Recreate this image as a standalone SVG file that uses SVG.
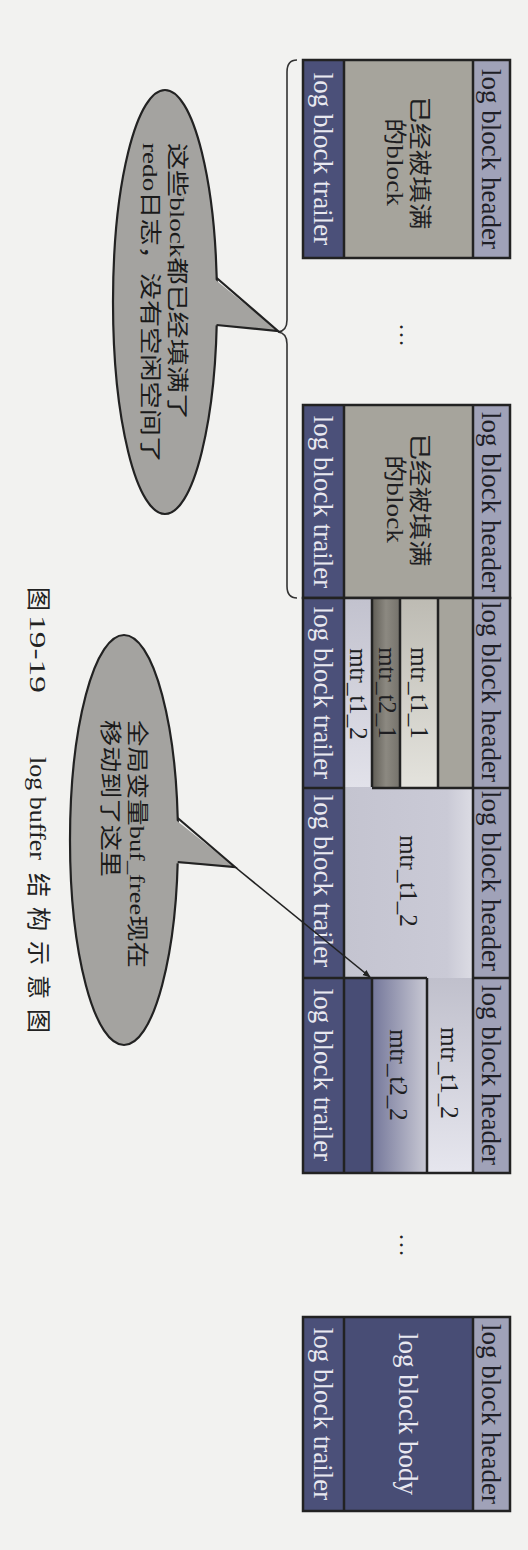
<svg xmlns="http://www.w3.org/2000/svg" width="528" height="1550" viewBox="0 0 528 1550">
<style>
.lat{font-family:"Liberation Serif","Times New Roman",serif;}
.cjk{font-family:"Liberation Serif","Noto Sans CJK SC",serif;}
.hdr{fill:#a0a2b8;}
.trl{fill:#4b5079;}
.gray{fill:#a6a49c;}
.navy{fill:#484d75;}
.frame{fill:none;stroke:#222;stroke-width:2.5;}
.ln{stroke:#222;stroke-width:2.5;fill:none;}
.tdark{fill:#1e1e26;font-size:27px;}
.tlight{fill:#e8e8f0;font-size:27px;}
.mtr{fill:#1e1e22;font-size:25px;}
.body{fill:#1e1e22;font-size:23px;}
.call{fill:#1a1a1a;font-size:22px;}
.cap{fill:#222;font-size:24px;}
.bub{fill:#a4a3a0;}
</style>
<defs>
<linearGradient id="gT11" x1="0" y1="0" x2="0" y2="1"><stop offset="0" stop-color="#bdbbb3"/><stop offset="1" stop-color="#e4e3dd"/></linearGradient>
<linearGradient id="gT21" x1="0" y1="0" x2="1" y2="0"><stop offset="0" stop-color="#5f5c55"/><stop offset="0.5" stop-color="#8c8981"/><stop offset="1" stop-color="#75726b"/></linearGradient>
<linearGradient id="gT12a" x1="0" y1="0" x2="0" y2="1"><stop offset="0" stop-color="#c2c2ce"/><stop offset="1" stop-color="#e2e2ea"/></linearGradient>
<linearGradient id="gT12b" x1="0" y1="0" x2="1" y2="0"><stop offset="0" stop-color="#c4c4d0"/><stop offset="0.8" stop-color="#cacad6"/><stop offset="1" stop-color="#dcdce4"/></linearGradient>
<linearGradient id="gT12c" x1="0" y1="0" x2="0" y2="1"><stop offset="0" stop-color="#c0c0cc"/><stop offset="1" stop-color="#e6e6ee"/></linearGradient>
<linearGradient id="gT22" x1="0" y1="0" x2="1" y2="0"><stop offset="0" stop-color="#74779a"/><stop offset="1" stop-color="#c9c9d4"/></linearGradient>
<marker id="ah" viewBox="0 0 10 10" refX="9" refY="5" markerWidth="8" markerHeight="8" orient="auto" markerUnits="userSpaceOnUse"><path d="M0,1 L10,5 L0,9 Z" fill="#222"/></marker>
</defs>
<rect width="528" height="1550" fill="#f2f2f0"/>

<g id="block1">
<rect class="trl" x="303" y="60" width="41" height="198"/>
<rect class="gray" x="344" y="60" width="129" height="198"/>
<rect class="hdr" x="473" y="60" width="37" height="198"/>
<rect class="frame" x="303" y="60" width="207" height="198"/>
<line class="ln" x1="344" y1="60" x2="344" y2="258"/>
<line class="ln" x1="473" y1="60" x2="473" y2="258"/>
<text class="lat tdark" text-anchor="middle" dominant-baseline="central" transform="translate(491,159) rotate(90)">log block header</text>
<text class="lat tlight" text-anchor="middle" dominant-baseline="central" transform="translate(323,159) rotate(90)">log block trailer</text>
<text class="cjk body" text-anchor="middle" dominant-baseline="central" textLength="133" lengthAdjust="spacingAndGlyphs" transform="translate(419,163) rotate(90)">已经被填满</text>
<text class="cjk body" text-anchor="middle" dominant-baseline="central" textLength="88" lengthAdjust="spacingAndGlyphs" transform="translate(394,162) rotate(90)">的block</text>
</g>

<g id="ellipsis1"><text class="lat" font-size="24" fill="#222" text-anchor="middle" dominant-baseline="central" transform="translate(408,335) rotate(90)">…</text></g>

<g id="block2">
<rect class="trl" x="303" y="405" width="41" height="193"/>
<rect class="gray" x="344" y="405" width="129" height="193"/>
<rect class="hdr" x="473" y="405" width="37" height="193"/>
<rect class="frame" x="303" y="405" width="207" height="193"/>
<line class="ln" x1="344" y1="405" x2="344" y2="598"/>
<line class="ln" x1="473" y1="405" x2="473" y2="598"/>
<text class="lat tdark" text-anchor="middle" dominant-baseline="central" transform="translate(491,502) rotate(90)">log block header</text>
<text class="lat tlight" text-anchor="middle" dominant-baseline="central" transform="translate(323,502) rotate(90)">log block trailer</text>
<text class="cjk body" text-anchor="middle" dominant-baseline="central" textLength="133" lengthAdjust="spacingAndGlyphs" transform="translate(419,500) rotate(90)">已经被填满</text>
<text class="cjk body" text-anchor="middle" dominant-baseline="central" textLength="88" lengthAdjust="spacingAndGlyphs" transform="translate(394,499) rotate(90)">的block</text>
</g>

<g id="block3">
<rect class="trl" x="303" y="598" width="41" height="190"/>
<rect class="gray" x="344" y="598" width="129" height="190"/>
<rect fill="url(#gT12a)" x="344" y="598" width="28" height="191"/>
<rect fill="url(#gT21)" x="372" y="598" width="28" height="190"/>
<rect fill="url(#gT11)" x="400" y="598" width="38" height="190"/>
<rect class="hdr" x="473" y="598" width="37" height="190"/>
<line class="ln" x1="372" y1="598" x2="372" y2="788"/>
<line class="ln" x1="400" y1="598" x2="400" y2="788"/>
<line class="ln" x1="438" y1="598" x2="438" y2="788"/>
<text class="lat tdark" text-anchor="middle" dominant-baseline="central" transform="translate(491,692) rotate(90)">log block header</text>
<text class="lat tlight" text-anchor="middle" dominant-baseline="central" transform="translate(323,693) rotate(90)">log block trailer</text>
<text class="lat mtr" text-anchor="middle" dominant-baseline="central" transform="translate(419,693) rotate(90)">mtr_t1_1</text>
<text class="lat mtr" text-anchor="middle" dominant-baseline="central" transform="translate(387,693) rotate(90)">mtr_t2_1</text>
<text class="lat mtr" text-anchor="middle" dominant-baseline="central" transform="translate(358,694) rotate(90)">mtr_t1_2</text>
</g>

<g id="block4">
<rect class="trl" x="303" y="788" width="41" height="190"/>
<rect fill="url(#gT12b)" x="344" y="787" width="129" height="192"/>
<rect class="hdr" x="473" y="788" width="37" height="190"/>
<line class="ln" x1="372" y1="788" x2="473" y2="788"/>
<text class="lat tdark" text-anchor="middle" dominant-baseline="central" transform="translate(491,881) rotate(90)">log block header</text>
<text class="lat tlight" text-anchor="middle" dominant-baseline="central" transform="translate(323,881) rotate(90)">log block trailer</text>
<text class="lat mtr" text-anchor="middle" dominant-baseline="central" transform="translate(408,881) rotate(90)">mtr_t1_2</text>
</g>

<g id="block5">
<rect class="trl" x="303" y="978" width="41" height="195"/>
<rect class="navy" x="344" y="978" width="28" height="195"/>
<rect fill="url(#gT22)" x="372" y="978" width="55" height="195"/>
<rect fill="url(#gT12c)" x="427" y="978" width="46" height="195"/>
<rect class="hdr" x="473" y="978" width="37" height="195"/>
<line class="ln" x1="303" y1="978" x2="427" y2="978"/>
<line class="ln" x1="372" y1="978" x2="372" y2="1173"/>
<line class="ln" x1="427" y1="978" x2="427" y2="1173"/>
<text class="lat tdark" text-anchor="middle" dominant-baseline="central" transform="translate(491,1075) rotate(90)">log block header</text>
<text class="lat tlight" text-anchor="middle" dominant-baseline="central" transform="translate(323,1075) rotate(90)">log block trailer</text>
<text class="lat mtr" text-anchor="middle" dominant-baseline="central" transform="translate(449,1073) rotate(90)">mtr_t1_2</text>
<text class="lat mtr" text-anchor="middle" dominant-baseline="central" transform="translate(398,1075) rotate(90)">mtr_t2_2</text>
</g>

<g id="frame345">
<rect class="frame" x="303" y="598" width="207" height="575"/>
<line class="ln" x1="344" y1="598" x2="344" y2="1173"/>
<line class="ln" x1="473" y1="598" x2="473" y2="1173"/>
<line class="ln" x1="303" y1="788" x2="344" y2="788"/>
<line class="ln" x1="473" y1="788" x2="510" y2="788"/>
<line class="ln" x1="473" y1="978" x2="510" y2="978"/>
</g>

<g id="ellipsis2"><text class="lat" font-size="24" fill="#222" text-anchor="middle" dominant-baseline="central" transform="translate(408,1245) rotate(90)">…</text></g>

<g id="block6">
<rect class="trl" x="303" y="1317" width="41" height="194"/>
<rect class="navy" x="344" y="1317" width="129" height="194"/>
<rect class="hdr" x="473" y="1317" width="37" height="194"/>
<rect class="frame" x="303" y="1317" width="207" height="194"/>
<line class="ln" x1="344" y1="1317" x2="344" y2="1511"/>
<line class="ln" x1="473" y1="1317" x2="473" y2="1511"/>
<text class="lat tdark" text-anchor="middle" dominant-baseline="central" transform="translate(491,1414) rotate(90)">log block header</text>
<text class="lat tlight" text-anchor="middle" dominant-baseline="central" transform="translate(408,1414) rotate(90)">log block body</text>
<text class="lat tlight" text-anchor="middle" dominant-baseline="central" transform="translate(323,1414) rotate(90)">log block trailer</text>
</g>

<g id="brace">
<path d="M297,60 Q287,60 287,72 L287,320 Q287,331 278,332 Q287,333 287,344 L287,586 Q287,598 297,598" fill="none" stroke="#333" stroke-width="1.6"/>
</g>

<g id="callout1">
<ellipse class="bub" cx="165" cy="302" rx="52" ry="212" stroke="#222" stroke-width="2.2"/>
<polygon class="bub" points="212,277 278,331 212,325"/>
<polyline points="216.7,278 278,331 216.5,325" fill="none" stroke="#222" stroke-width="2.2"/>
<text class="cjk call" dominant-baseline="central" textLength="277" lengthAdjust="spacingAndGlyphs" transform="translate(177,143) rotate(90)">这些block都已经填满了</text>
<text class="cjk call" dominant-baseline="central" textLength="320" lengthAdjust="spacingAndGlyphs" transform="translate(150,143) rotate(90)">redo日志，没有空闲空间了</text>
</g>

<g id="callout2">
<ellipse class="bub" cx="124" cy="840" rx="54" ry="205" stroke="#222" stroke-width="2.2"/>
<polygon class="bub" points="172,817 235,867 172,863"/>
<polyline points="177.7,818 235,867 177.7,862" fill="none" stroke="#222" stroke-width="2.2"/>
<text class="cjk call" dominant-baseline="central" textLength="248" lengthAdjust="spacingAndGlyphs" transform="translate(137,720) rotate(90)">全局变量buf_free现在</text>
<text class="cjk call" dominant-baseline="central" textLength="157" lengthAdjust="spacingAndGlyphs" transform="translate(110,720) rotate(90)">移动到了这里</text>
</g>

<g id="connectors">
<line x1="235" y1="867" x2="370" y2="977" stroke="#222" stroke-width="1.6" marker-end="url(#ah)"/>
</g>

<g id="caption">
<text class="cjk cap" dominant-baseline="central" transform="translate(38,587) rotate(90)">图</text>
<text class="lat cap" dominant-baseline="central" textLength="78" lengthAdjust="spacingAndGlyphs" transform="translate(38,615) rotate(90)">19-19</text>
<text class="lat cap" dominant-baseline="central" textLength="103" lengthAdjust="spacingAndGlyphs" transform="translate(38,757) rotate(90)">log buffer</text>
<text class="cjk cap" dominant-baseline="central" letter-spacing="10" transform="translate(38,873) rotate(90)">结构示意图</text>
</g>
</svg>
